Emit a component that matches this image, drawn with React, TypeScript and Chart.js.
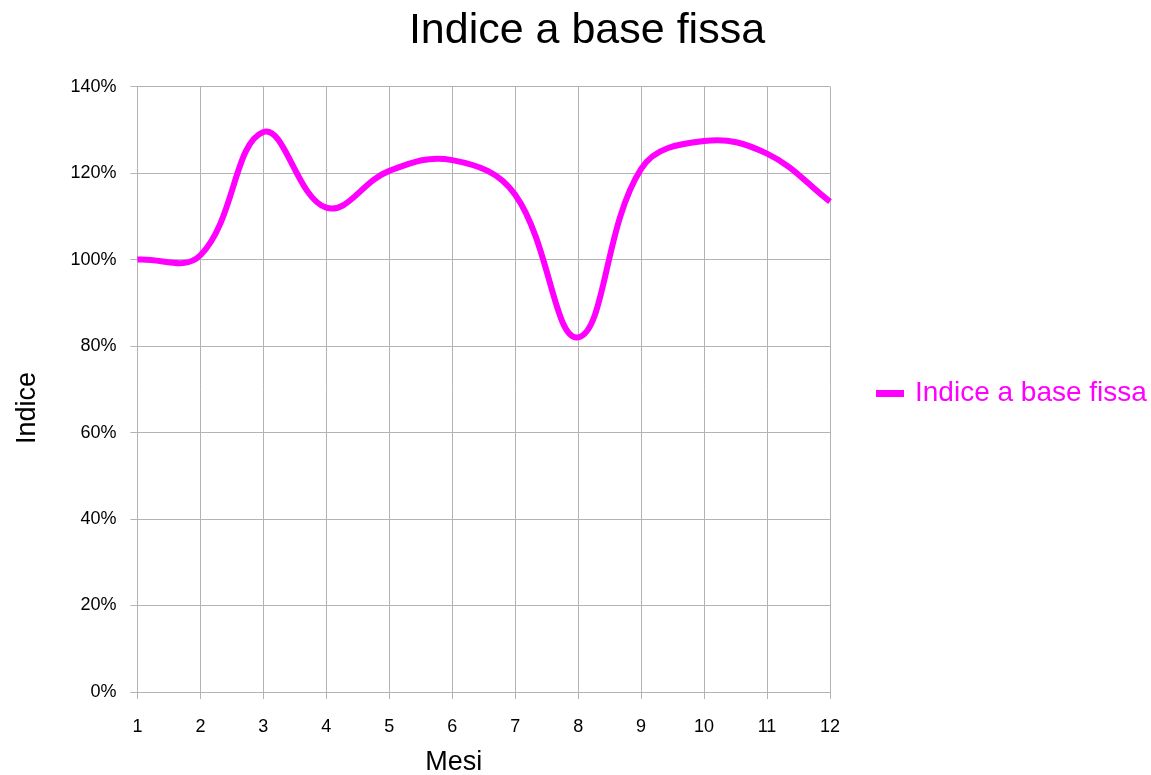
import React, { useEffect, useRef } from "react";
import { Chart, registerables } from "chart.js";

Chart.register(...registerables);

const months = ["1", "2", "3", "4", "5", "6", "7", "8", "9", "10", "11", "12"];
const indexValues = [100, 101, 129.5, 112, 120.5, 123, 115, 82, 121, 127.4, 124.5, 113.4];
const yTicks = [0, 20, 40, 60, 80, 100, 120, 140];
const seriesName = "Indice a base fissa";
const chartTitle = "Indice a base fissa";
const xTitle = "Mesi";
const yTitle = "Indice";

const LEGEND_WIDTH = 321;

const legendWidthPlugin = {
  id: "legendWidth",
  beforeLayout(chart: any) {
    const lg = chart.legend;
    if (lg && !lg.__patched) {
      const orig = lg.fit;
      lg.fit = function (this: any) {
        orig.call(this);
        this.width = LEGEND_WIDTH;
      };
      lg.__patched = true;
    }
  },
};

export default function App() {
  const ref = useRef<HTMLCanvasElement | null>(null);
  useEffect(() => {
    if (!ref.current) return;
    const font = "'Liberation Sans', Arial, sans-serif";
    const chart = new Chart(ref.current, {
      type: "line",
      data: {
        labels: months,
        datasets: [
          {
            label: seriesName,
            data: indexValues,
            borderColor: "#ff00ff",
            backgroundColor: "#ff00ff",
            borderWidth: 6,
            pointRadius: 0,
            tension: 0.4,
            fill: false,
          },
        ],
      },
      plugins: [legendWidthPlugin],
      options: {
        animation: false,
        responsive: false,
        layout: { padding: { left: 11, right: 0, top: 0, bottom: 0 } },
        plugins: {
          title: {
            display: true,
            text: " " + chartTitle,
            color: "#000",
            font: { family: font, size: 43, weight: "normal" },
            padding: { top: 5, bottom: 30 },
          },
          legend: {
            position: "right",
            title: { display: true, text: " ", font: { size: 10 }, padding: 0 },
            labels: {
              color: "#ff00ff",
              font: { family: font, size: 28 },
              boxWidth: 22,
              boxHeight: 1,
              padding: 49,
            },
          },
          tooltip: { enabled: false },
        },
        scales: {
          x: {
            offset: false,
            grid: { color: "#b3b3b3", tickLength: 7, drawTicks: true },
            border: { color: "#b3b3b3" },
            ticks: { color: "#000", font: { family: font, size: 18 }, padding: 17, maxRotation: 0 },
            title: {
              display: true,
              text: xTitle + "        ",
              color: "#000",
              font: { family: font, size: 27 },
              padding: { top: -8, bottom: -4 },
            },
          },
          y: {
            min: 0,
            max: 140,
            afterBuildTicks: (axis: any) => {
              axis.ticks = yTicks.map((v) => ({ value: v }));
            },
            grid: { color: "#b3b3b3", tickLength: 7 },
            border: { color: "#b3b3b3" },
            ticks: {
              color: "#000",
              font: { family: font, size: 18 },
              padding: 14,
              callback: (v: any) => v + "%",
            },
            title: {
              display: true,
              text: yTitle + "     ",
              color: "#000",
              font: { family: font, size: 27 },
              padding: { top: 0, bottom: 13 },
            },
          },
        },
      },
    });
    return () => chart.destroy();
  }, []);
  return (
    <div style={{ position: "fixed", left: 0, top: 0, width: 1151, height: 775, background: "#fff" }}>
      <canvas ref={ref} width={1151} height={775} style={{ width: 1151, height: 775 }} />
    </div>
  );
}
